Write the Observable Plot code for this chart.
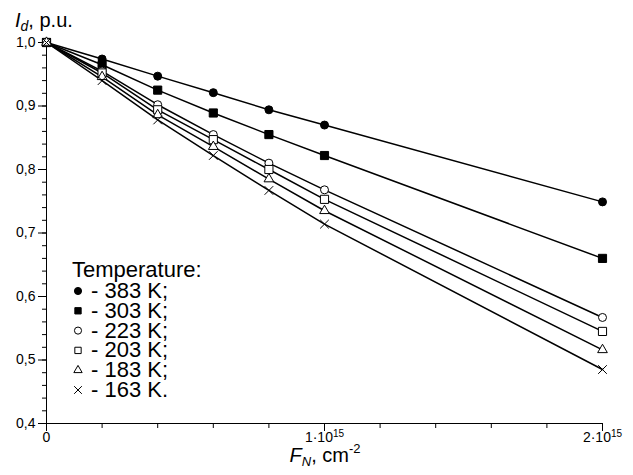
<!DOCTYPE html>
<html><head><meta charset="utf-8">
<script src="https://cdn.jsdelivr.net/npm/d3@7"></script>
<script src="https://cdn.jsdelivr.net/npm/@observablehq/plot@0.6"></script>
<style>body{margin:0;background:#fff;}</style>
</head><body><div id="chart"></div>
<script>
// Fluence F_N, cm^-2
const fluence = [0, 2e14, 4e14, 6e14, 8e14, 1e15, 2e15];
// Relative drain current I_d, p.u.
const id383 = [1.000, 0.974, 0.947, 0.921, 0.894, 0.870, 0.749];
const id303 = [1.000, 0.965, 0.925, 0.889, 0.855, 0.822, 0.660];
const id223 = [1.000, 0.955, 0.902, 0.855, 0.810, 0.768, 0.567];
const id203 = [1.000, 0.952, 0.894, 0.847, 0.800, 0.753, 0.545];
const id183 = [1.000, 0.946, 0.886, 0.836, 0.785, 0.735, 0.516];
const id163 = [1.000, 0.940, 0.878, 0.822, 0.767, 0.714, 0.485];
const temps = ["383 K", "303 K", "223 K", "203 K", "183 K", "163 K"];
const legendLabels = ["- 383 K;", "- 303 K;", "- 223 K;", "- 203 K;", "- 183 K;", "- 163 K."];
const yMajorTicks = [0.4, 0.5, 0.6, 0.7, 0.8, 0.9, 1.0];
const yMinorTicks = d3.range(0.4, 1.0001, 0.02);
const xMajorTicks = [0, 1e15, 2e15];
const xMinorTicks = [2e14, 4e14, 6e14, 8e14, 1.2e15, 1.4e15, 1.6e15, 1.8e15];

const series = [id383, id303, id223, id203, id183, id163];
const symbols = ["circle", "square", "circle", "square", "triangle", "times"];
const filled = [true, true, false, false, false, false];
const radii = [4, 4.6, 4, 4.6, 3.6, 4];
const rows = temps.flatMap((t, i) => fluence.map((f, j) => ({t, k: i, f, v: series[i][j]})));

const dotMarks = temps.map((t, i) => Plot.dot(rows.filter(d => d.k === i), {
  x: "f", y: "v", symbol: symbols[i], r: radii[i],
  fill: symbols[i] === "times" ? "none" : (filled[i] ? "black" : "white"),
  stroke: "black", strokeWidth: 1
}));

const svg = Plot.plot({
  width: 633, height: 475,
  marginLeft: 46, marginRight: 31, marginTop: 42, marginBottom: 52,
  style: {fontFamily: "'Liberation Sans', Arial, sans-serif", fontSize: "14px", color: "black", background: "white"},
  x: {domain: [0, 2e15]},
  y: {domain: [0.4, 1.0]},
  marks: [
    Plot.axisY(yMinorTicks, {tickSize: 4, tickFormat: () => "", label: null}),
    Plot.axisY(yMajorTicks, {tickSize: 8, tickPadding: 3, fontSize: 14, tickFormat: d => d.toFixed(1).replace(".", ","), label: null}),
    Plot.axisX(xMinorTicks, {tickSize: 5, tickFormat: () => "", label: null}),
    Plot.axisX(xMajorTicks, {tickSize: 8, tickPadding: 1, fontSize: 14, tickFormat: d => d === 0 ? "0" : `${d / 1e15}·10^15`, label: null}),
    Plot.ruleY([0.4], {stroke: "black", strokeWidth: 1}),
    Plot.ruleX([0], {stroke: "black", strokeWidth: 1}),
    Plot.line(rows, {x: "f", y: "v", z: "t", stroke: "black", strokeWidth: 1.5}),
    ...dotMarks
  ]
});

const s = d3.select(svg);
// superscripts in x tick labels
s.selectAll('g[aria-label="x-axis tick label"] text').each(function() {
  const str = this.textContent;
  if (str.includes("^")) {
    const [a, b] = str.split("^");
    const t = d3.select(this);
    t.text(null);
    t.append("tspan").text(a);
    t.append("tspan").attr("dy", "-0.5em").attr("font-size", "10px").text(b);
  }
});

const font = "'Liberation Sans', Arial, sans-serif";
// y title
const yt = s.append("text").attr("x", 15).attr("y", 27).attr("text-anchor", "start").attr("font-size", 20).attr("font-family", font).attr("fill", "black");
yt.append("tspan").attr("font-style", "italic").text("I");
yt.append("tspan").attr("font-style", "italic").attr("font-size", 14).attr("dy", 4).text("d");
yt.append("tspan").attr("dy", -4).text(", p.u.");

// x title
const xt = s.append("text").attr("x", 325).attr("y", 462).attr("text-anchor", "middle").attr("font-size", 20).attr("font-family", font).attr("fill", "black");
xt.append("tspan").attr("font-style", "italic").text("F");
xt.append("tspan").attr("font-style", "italic").attr("font-size", 13).attr("dy", 4).text("N");
xt.append("tspan").attr("dy", -4).text(", cm");
xt.append("tspan").attr("font-size", 13).attr("dy", -9).text("-2");

// legend
const lg = s.append("g").attr("font-family", font).attr("font-size", 22).attr("fill", "black").attr("text-anchor", "start");
lg.append("text").attr("x", 72).attr("y", 277).text("Temperature:");
const d3sym = {circle: d3.symbolCircle, square: d3.symbolSquare, triangle: d3.symbolTriangle, times: d3.symbolTimes};
const lsize = [40, 40, 40, 40, 30, 40];
legendLabels.forEach((lab, i) => {
  const y = 298 + 19.8 * i;
  lg.append("path")
    .attr("transform", `translate(78,${y - 7})`)
    .attr("d", d3.symbol(d3sym[symbols[i]], lsize[i])())
    .attr("fill", symbols[i] === "times" ? "none" : (filled[i] ? "black" : "white"))
    .attr("stroke", "black").attr("stroke-width", 1);
  lg.append("text").attr("x", 91).attr("y", y).text(lab);
});

document.getElementById("chart").appendChild(svg);
</script>
</body></html>
